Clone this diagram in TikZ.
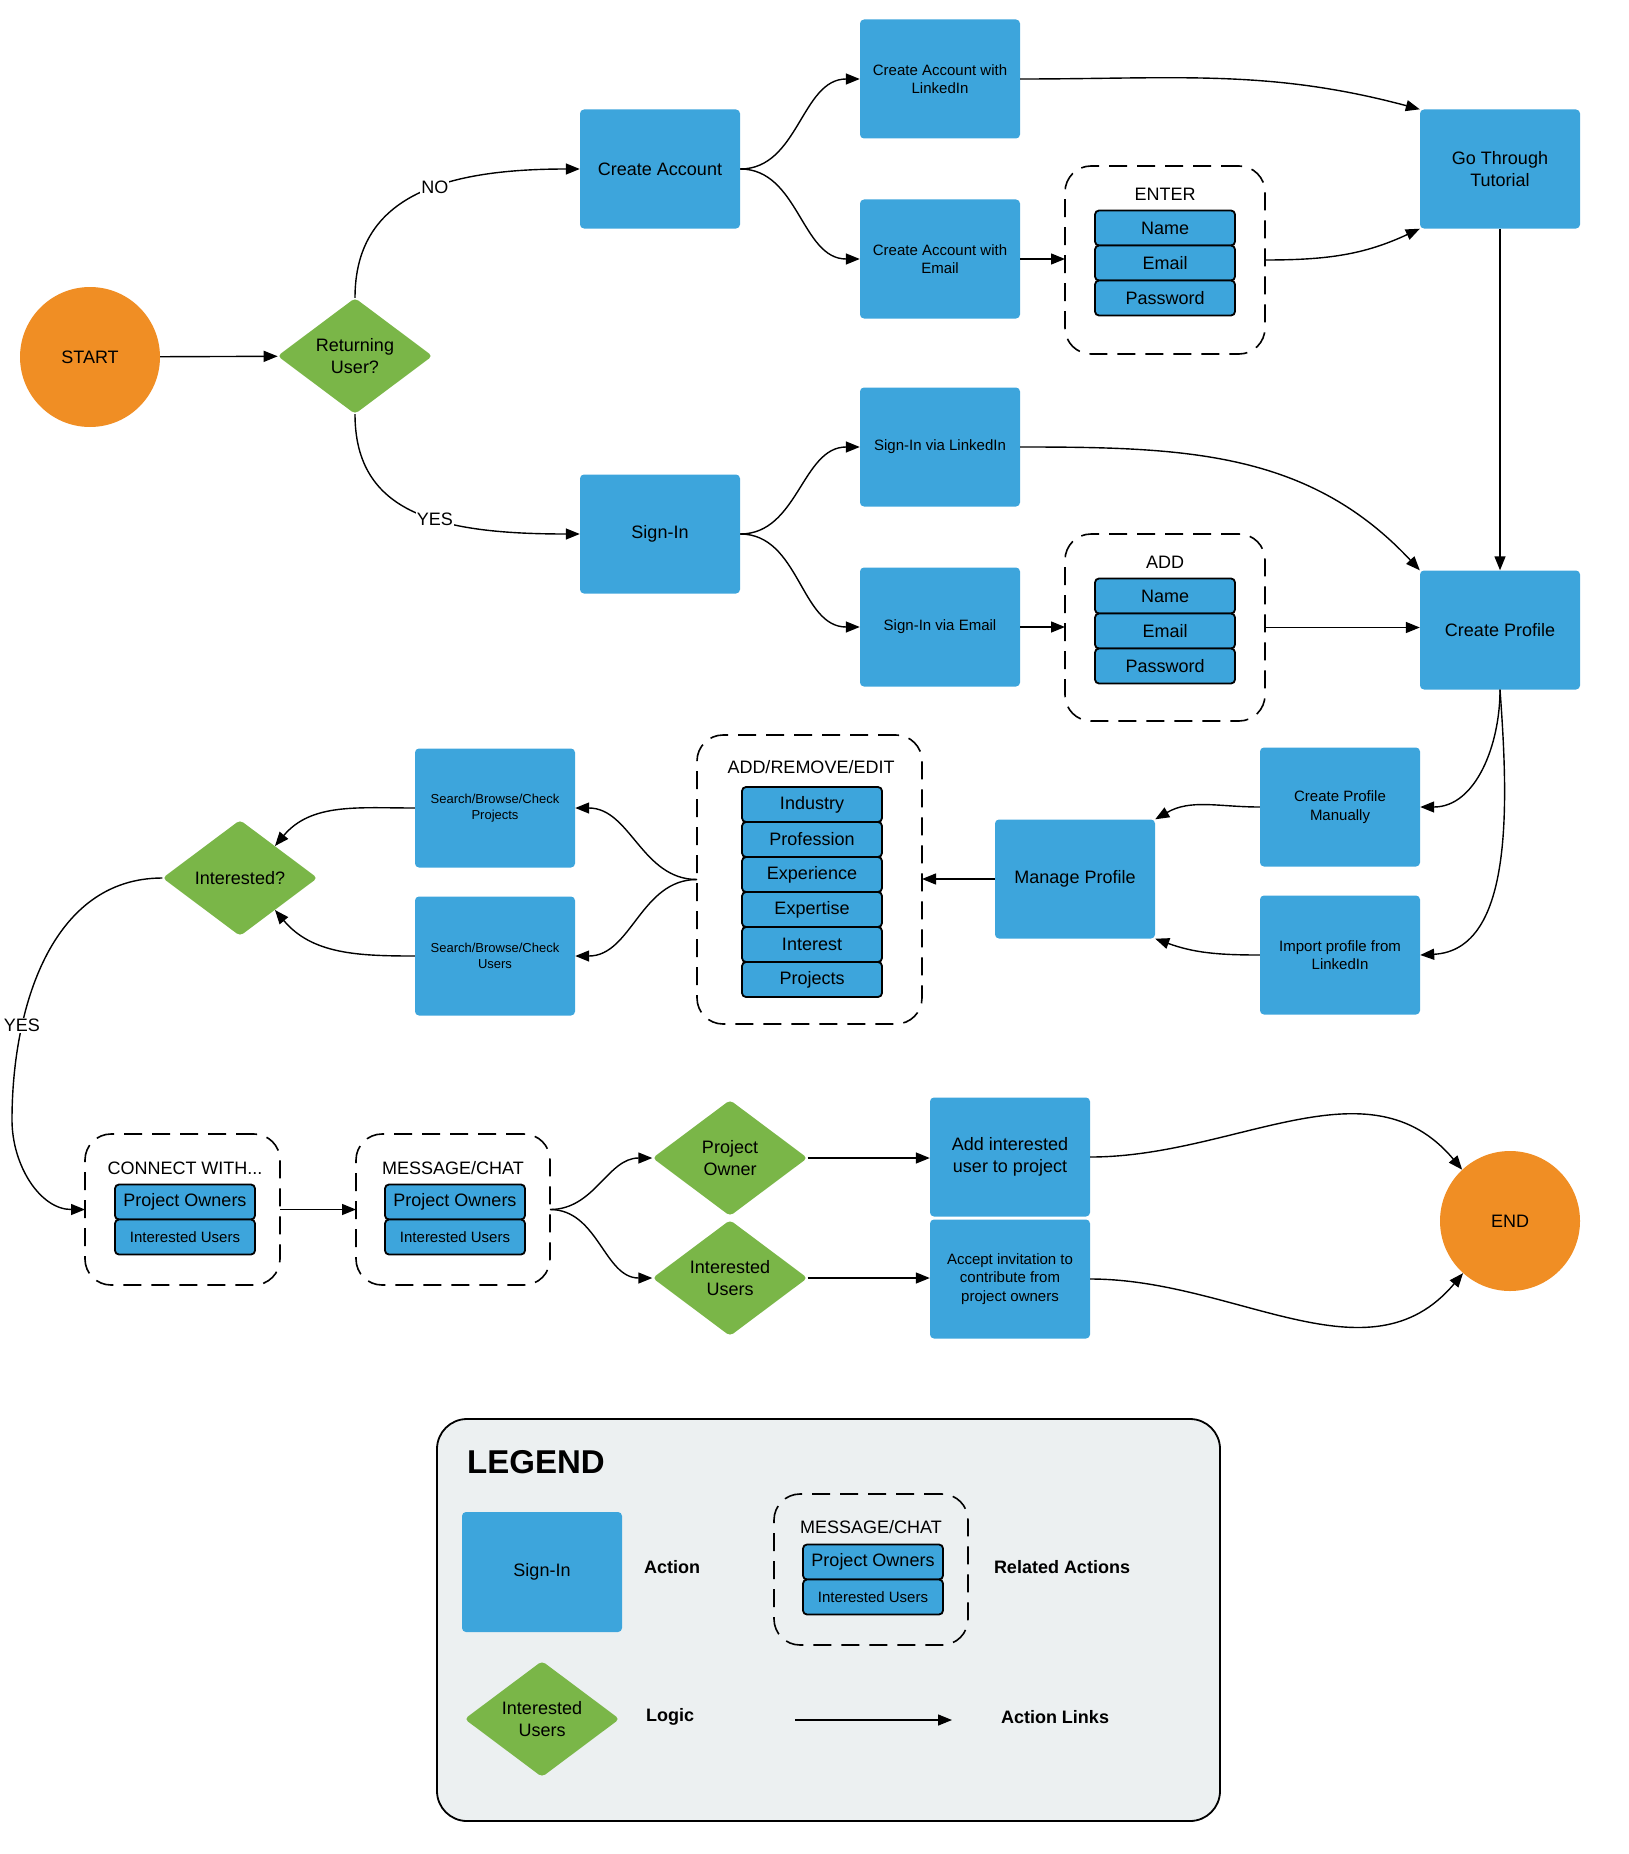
\documentclass[tikz,border=0pt]{standalone}
\usepackage{fontspec}
\setmainfont{Liberation Sans}
\usepackage{xcolor}
\usepackage{tikz}
\usetikzlibrary{positioning}
\usetikzlibrary{calc}
\usetikzlibrary{shapes}
\usetikzlibrary{shapes.geometric}
\usetikzlibrary{arrows.meta}

\definecolor{actblue}{RGB}{61,165,220}
\definecolor{logicgreen}{RGB}{122,182,72}
\definecolor{termorange}{RGB}{240,142,36}
\definecolor{legendgray}{RGB}{236,240,241}

\newcommand{\txtL}{\fontsize{18}{21.5}\selectfont}
\newcommand{\txtM}{\fontsize{15}{18.5}\selectfont}
\newcommand{\txtS}{\fontsize{13}{16}\selectfont}

\tikzset{
  action/.style={rectangle, rounded corners=4pt, fill=actblue, minimum width=160pt, minimum height=119pt, inner sep=2pt, align=center, font=\txtL},
  logic/.style={diamond, rounded corners=4pt, fill=logicgreen, minimum width=155pt, minimum height=116pt, inner sep=0pt, align=center, font=\txtL},
  terminal/.style={circle, fill=termorange, minimum size=140pt, inner sep=0pt, font=\txtL},
  group/.style={draw, line width=1.6pt, dash pattern=on 18pt off 10pt, rounded corners=26pt, outer sep=0pt},
  grouptitle/.style={inner sep=0pt, font=\txtL},
  field/.style={draw, line width=1.8pt, fill=actblue, rounded corners=4pt, minimum width=140pt, minimum height=35pt, inner sep=0pt, outer sep=0pt, font=\txtL},
  arr/.style={line width=1.4pt, -{Triangle[length=14pt,width=11pt]}},
  lbl/.style={fill=white, inner sep=1pt, font=\txtL},
  legendtxt/.style={font=\txtL\bfseries}
}

\begin{document}
\begin{tikzpicture}[x=1pt, y=-1pt]
\useasboundingbox (0,0) rectangle (1629,1854);

\node[terminal] (start) at (90,357) {START};
\node[logic] (retuser) at (355,356) {Returning\\User?};
\node[action] (createacc) at (660,169) {Create Account};
\node[action] (signin) at (660,534) {Sign-In};
\node[action, font=\txtM] (caLinked) at (940,79) {Create Account with\\LinkedIn};
\node[action, font=\txtM] (caEmail) at (940,259) {Create Account with\\Email};
\node[action, font=\txtM] (siLinked) at (940,447) {Sign-In via LinkedIn};
\node[action, font=\txtM] (siEmail) at (940,627) {Sign-In via Email};
\node[action] (tutorial) at (1500,169) {Go Through\\Tutorial};
\node[action] (createprof) at (1500,630) {Create Profile};

\node[group, minimum width=200pt, minimum height=188pt] (enter) at (1165,260) {};
\node[grouptitle] (enterT) at (1165,194) {ENTER};
\node[field] (enterName) at (1165,228) {Name};
\node[field, below=0pt of enterName] (enterEmail) {Email};
\node[field, below=0pt of enterEmail] (enterPass) {Password};

\node[group, minimum width=200pt, minimum height=187pt] (addgrp) at (1165,627.5) {};
\node[grouptitle] (addT) at (1165,562) {ADD};
\node[field] (addName) at (1165,596) {Name};
\node[field, below=0pt of addName] (addEmail) {Email};
\node[field, below=0pt of addEmail] (addPass) {Password};

\node[action, font=\txtM] (profmanual) at (1340,807) {Create Profile\\Manually};
\node[action, font=\txtM] (profimport) at (1340,955) {Import profile from\\LinkedIn};
\node[action] (manageprof) at (1075,879) {Manage Profile};

\node[group, minimum width=225pt, minimum height=289pt] (editgrp) at (809.5,879.5) {};
\node[grouptitle] (editT) at (811,767) {ADD/REMOVE/EDIT};
\node[field] (edIndustry) at (812,804.5) {Industry};
\node[field, below=0pt of edIndustry] (edProfession) {Profession};
\node[field, below=0pt of edProfession] (edExperience) {Experience};
\node[field, below=0pt of edExperience] (edExpertise) {Expertise};
\node[field, below=0pt of edExpertise] (edInterest) {Interest};
\node[field, below=0pt of edInterest] (edProjects) {Projects};

\node[action, font=\txtS] (searchproj) at (495,808) {Search/Browse/Check\\Projects};
\node[action, font=\txtS] (searchusers) at (495,956) {Search/Browse/Check\\Users};
\node[logic] (interested) at (240,878) {Interested?};
\coordinate (intNE) at ($(interested.north)!0.45!(interested.east)$);
\coordinate (intSE) at ($(interested.south)!0.45!(interested.east)$);
\coordinate (yesbend) at (12,1120);

\node[group, minimum width=195pt, minimum height=151pt] (connectgrp) at (182.5,1209.5) {};
\node[grouptitle] (connectT) at (185,1168) {CONNECT WITH...};
\node[field] (cwOwners) at (185,1202) {Project Owners};
\node[field, font=\txtM, below=0pt of cwOwners] (cwUsers) {Interested Users};

\node[group, minimum width=194pt, minimum height=151pt] (chatgrp) at (453,1209.5) {};
\node[grouptitle] (chatT) at (453,1168) {MESSAGE/CHAT};
\node[field] (mcOwners) at (455,1202) {Project Owners};
\node[field, font=\txtM, below=0pt of mcOwners] (mcUsers) {Interested Users};

\node[logic] (projowner) at (730,1158) {Project\\Owner};
\node[logic] (intusers) at (730,1278) {Interested\\Users};
\node[action] (addtoproj) at (1010,1157) {Add interested\\user to project};
\node[action, font=\txtM] (acceptinv) at (1010,1279) {Accept invitation to\\contribute from\\project owners};
\node[terminal] (finish) at (1510,1221) {END};

\draw[arr] (start) -- (retuser);
\draw[arr] (retuser.north) .. controls +(0,-100) and +(-140,0) .. node[lbl, pos=0.58] {NO} (createacc.west);
\draw[arr] (retuser.south) .. controls +(0,100) and +(-140,0) .. node[lbl, pos=0.58] {YES} (signin.west);
\draw[arr] (createacc.east) to[out=0, in=180] (caLinked.west);
\draw[arr] (createacc.east) to[out=0, in=180] (caEmail.west);
\draw[arr] (signin.east) to[out=0, in=180] (siLinked.west);
\draw[arr] (signin.east) to[out=0, in=180] (siEmail.west);
\draw[arr] (caEmail.east) -- (enter.west |- caEmail.east);
\draw[arr] (siEmail.east) -- (addgrp.west |- siEmail.east);
\draw[arr] (caLinked.east) to[out=0, in=165] (tutorial.north west);
\draw[arr] (enter.east) to[out=0, in=205] (tutorial.south west);
\draw[arr] (tutorial) -- (createprof);
\draw[arr] (siLinked.east) to[out=0, in=133] (createprof.north west);
\draw[arr] (addgrp.east) -- (createprof.west |- addgrp.east);

\draw[arr] (createprof.south) to[out=-90, in=0] (profmanual.east);
\draw[arr] (createprof.south) .. controls (1508,800) and (1515,950) .. (profimport.east);
\draw[arr] (profmanual.west) to[out=180, in=30] (manageprof.north east);
\draw[arr] (profimport.west) to[out=180, in=-20] (manageprof.south east);
\draw[arr] (manageprof) -- (editgrp.east |- manageprof.west);
\draw[arr] (editgrp.west) to[out=180, in=0] (searchproj.east);
\draw[arr] (editgrp.west) to[out=180, in=0] (searchusers.east);
\draw[arr] (searchproj.west) to[out=180, in=50] (intNE);
\draw[arr] (searchusers.west) to[out=180, in=-50] (intSE);
\draw[arr] (interested.west) to[out=180, in=90] node[lbl, pos=0.72] {YES} (yesbend) to[out=-90, in=180] (connectgrp.west);

\draw[arr] (connectgrp.east) -- (chatgrp.west);
\draw[arr] (chatgrp.east) to[out=0, in=180] (projowner.west);
\draw[arr] (chatgrp.east) to[out=0, in=180] (intusers.west);
\draw[arr] (projowner.east) -- (addtoproj.west |- projowner.east);
\draw[arr] (intusers.east) -- (acceptinv.west |- intusers.east);
\draw[arr] (addtoproj.east) to[out=0, in=130] (finish.133);
\draw[arr] (acceptinv.east) to[out=0, in=-130] (finish.228);

\node[draw, line width=1.8pt, fill=legendgray, rounded corners=30pt, minimum width=783pt, minimum height=402pt] (legendbox) at (828.5,1620) {};
\node[anchor=west, inner sep=0pt, font=\fontsize{33}{38}\selectfont\bfseries] (legendT) at (467,1462) {LEGEND};
\node[action, minimum height=120pt] (lgAction) at (542,1572) {Sign-In};
\node[legendtxt] (lgActionT) at (672,1567) {Action};
\node[logic] (lgLogic) at (542,1719) {Interested\\Users};
\node[legendtxt] (lgLogicT) at (670,1717) {Logic};
\node[group, minimum width=194pt, minimum height=151pt] (lgGroup) at (871,1569.5) {};
\node[grouptitle] (lgGroupT) at (871,1527) {MESSAGE/CHAT};
\node[field] (lgOwners) at (873,1562) {Project Owners};
\node[field, font=\txtM, below=0pt of lgOwners] (lgUsers) {Interested Users};
\node[legendtxt] (lgGroupL) at (1062,1567) {Related Actions};
\coordinate (linkA) at (795,1720);
\coordinate (linkB) at (952,1720);
\draw[arr] (linkA) -- (linkB);
\node[legendtxt] (lgLinkT) at (1055,1717) {Action Links};
\end{tikzpicture}
\end{document}
